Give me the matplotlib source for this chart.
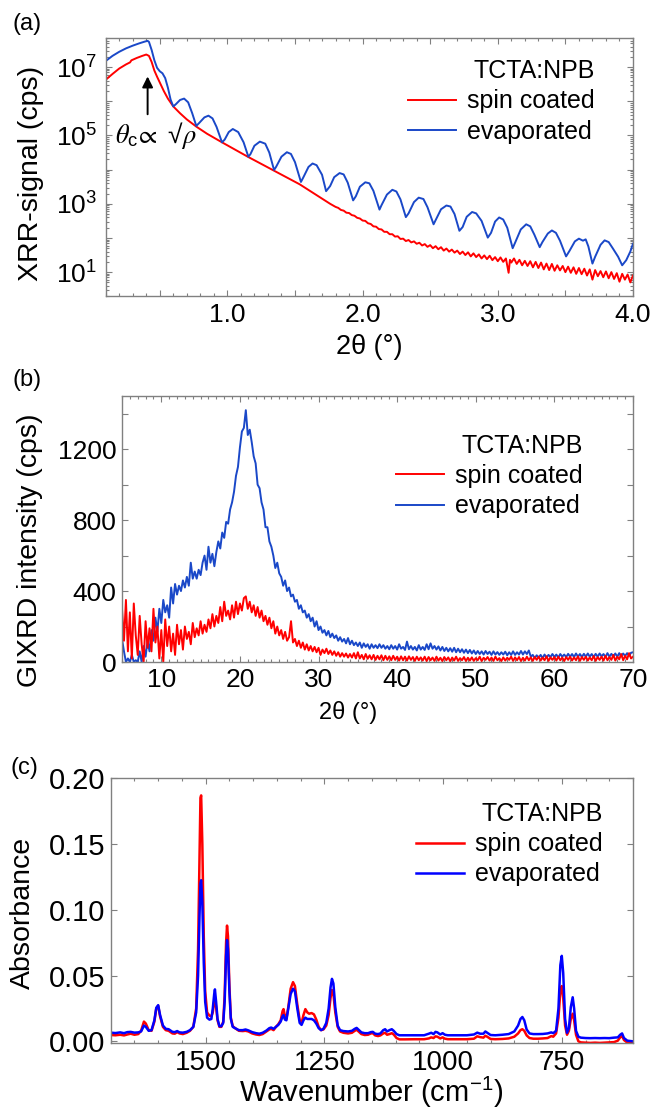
import numpy as np
import matplotlib
matplotlib.use("Agg")
import matplotlib.pyplot as plt
from matplotlib.ticker import MultipleLocator, LogLocator, FuncFormatter, NullFormatter

plt.rcParams['font.family'] = ['Liberation Sans', 'DejaVu Sans']
plt.rcParams['mathtext.fontset'] = 'stix'

# ---------------- data: (a) XRR (log10 of cps) ----------------
xrr_2theta_spin = [0.10, 0.15, 0.20, 0.25, 0.28, 0.29, 0.33, 0.37, 0.40, 0.42, 0.44, 0.46, 0.48, 0.50,
                   0.53, 0.56, 0.60, 0.65, 0.70, 0.77, 0.85, 0.96, 1.05, 1.15, 1.25, 1.335, 1.43, 1.535,
                   1.63, 1.73, 1.76,
                   1.80, 1.82, 1.84, 1.86, 1.88, 1.90, 1.92, 1.94, 1.96, 1.98,
                   2.00, 2.02, 2.04, 2.06, 2.08, 2.10, 2.12, 2.14, 2.16, 2.18,
                   2.20, 2.22, 2.24, 2.26, 2.28, 2.30, 2.32, 2.34, 2.36, 2.38,
                   2.40, 2.42, 2.44, 2.46, 2.48, 2.50, 2.52, 2.54, 2.56, 2.58,
                   2.60, 2.62, 2.64, 2.66, 2.68, 2.70, 2.72, 2.74, 2.76, 2.78,
                   2.80, 2.82, 2.84, 2.86, 2.88, 2.90, 2.92, 2.94, 2.96, 2.98,
                   3.00, 3.02, 3.04, 3.06, 3.08, 3.09, 3.10, 3.12, 3.14, 3.16, 3.18,
                   3.20, 3.22, 3.24, 3.26, 3.28, 3.30, 3.32, 3.34, 3.36, 3.38,
                   3.40, 3.42, 3.44, 3.46, 3.48, 3.50, 3.52, 3.54, 3.56, 3.58,
                   3.60, 3.62, 3.64, 3.66, 3.68, 3.70, 3.72, 3.74, 3.76, 3.78,
                   3.80, 3.82, 3.84, 3.86, 3.88, 3.90, 3.92, 3.94, 3.96, 3.98, 4.00]
xrr_log_spin = [6.63, 6.80, 6.96, 7.08, 7.14, 7.20, 7.27, 7.33, 7.37, 7.33, 7.15, 6.90, 6.72, 6.55,
                6.30, 6.08, 5.85, 5.65, 5.47, 5.26, 5.05, 4.80, 4.60, 4.38, 4.17, 3.99, 3.79, 3.57,
                3.33, 3.08, 3.00,
                2.91, 2.88, 2.82, 2.80, 2.74, 2.73, 2.67, 2.65, 2.59, 2.57,
                2.51, 2.50, 2.43, 2.41, 2.34, 2.33, 2.26, 2.25, 2.18, 2.18,
                2.11, 2.11, 2.04, 2.05, 1.97, 1.98, 1.91, 1.94, 1.87, 1.90,
                1.83, 1.86, 1.78, 1.82, 1.74, 1.79, 1.70, 1.76, 1.67, 1.73,
                1.63, 1.69, 1.60, 1.66, 1.57, 1.63, 1.53, 1.60, 1.50, 1.58,
                1.46, 1.55, 1.44, 1.52, 1.40, 1.49, 1.38, 1.48, 1.35, 1.44,
                1.32, 1.43, 1.30, 1.40, 0.98, 1.36, 1.28, 1.40, 1.24, 1.36, 1.20,
                1.33, 1.18, 1.32, 1.14, 1.30, 1.12, 1.28, 1.08, 1.25, 1.06,
                1.24, 1.04, 1.20, 1.05, 1.18, 1.00, 1.16, 0.98, 1.14, 0.95,
                1.12, 0.94, 1.10, 0.90, 1.08, 0.78, 1.06, 0.88, 1.03, 0.85,
                1.02, 0.82, 1.00, 0.80, 0.97, 0.72, 0.95, 0.78, 0.93, 0.70, 0.90]

xrr_2theta_evap = [0.10, 0.15, 0.20, 0.25, 0.30, 0.35, 0.39, 0.41, 0.42, 0.44, 0.46, 0.48, 0.50, 0.52,
                   0.54, 0.56, 0.58, 0.60, 0.62, 0.65, 0.68, 0.71, 0.74, 0.77, 0.79, 0.83, 0.86, 0.89,
                   0.92, 0.96, 0.98, 1.01, 1.04, 1.08, 1.12, 1.155, 1.17, 1.20, 1.24, 1.28, 1.31, 1.345,
                   1.36, 1.40, 1.44, 1.47, 1.50, 1.544, 1.56, 1.60, 1.63, 1.66, 1.70, 1.73, 1.76, 1.79,
                   1.83, 1.86, 1.89, 1.93, 1.95, 1.98, 2.02, 2.05, 2.08, 2.125, 2.14, 2.18, 2.22, 2.25,
                   2.28, 2.32, 2.34, 2.38, 2.415, 2.45, 2.48, 2.525, 2.54, 2.58, 2.62, 2.65, 2.68, 2.716,
                   2.74, 2.77, 2.81, 2.84, 2.88, 2.926, 2.95, 2.98, 3.01, 3.04, 3.07, 3.11, 3.13, 3.17,
                   3.21, 3.24, 3.27, 3.31, 3.33, 3.37, 3.40, 3.43, 3.46, 3.505, 3.53, 3.57, 3.60, 3.63,
                   3.65, 3.67, 3.70, 3.72, 3.76, 3.79, 3.82, 3.85, 3.89, 3.92, 3.95, 3.98, 4.00]
xrr_log_evap = [7.18, 7.33, 7.45, 7.55, 7.63, 7.70, 7.75, 7.77, 7.74, 7.50, 7.20, 6.98, 6.88, 6.82,
                6.68, 6.40, 6.05, 5.85, 5.92, 6.04, 6.08, 5.97, 5.65, 5.28, 5.36, 5.53, 5.58, 5.50,
                5.25, 4.80, 4.88, 5.10, 5.19, 5.10, 4.80, 4.38, 4.45, 4.70, 4.82, 4.76, 4.50, 3.99,
                4.08, 4.38, 4.51, 4.46, 4.22, 3.64, 3.76, 4.08, 4.18, 4.13, 3.85, 3.37, 3.52, 3.78,
                3.90, 3.86, 3.62, 3.10, 3.22, 3.50, 3.63, 3.60, 3.38, 2.83, 2.96, 3.27, 3.41, 3.36,
                3.13, 2.61, 2.72, 3.05, 3.18, 3.14, 2.90, 2.40, 2.52, 2.84, 2.95, 2.92, 2.70, 2.21,
                2.32, 2.62, 2.76, 2.72, 2.50, 2.01, 2.15, 2.48, 2.60, 2.54, 2.30, 1.70, 1.88, 2.25,
                2.40, 2.34, 2.10, 1.73, 1.88, 2.13, 2.22, 2.15, 1.92, 1.46, 1.62, 1.90, 1.98, 1.92,
                1.96, 1.75, 1.25, 1.45, 1.80, 1.93, 1.88, 1.70, 1.45, 1.20, 1.35, 1.60, 1.83]

# ---------------- data: (b) GIXRD (cps), 2theta = 5..70 step 0.25 ----------------
gixrd_evap = [
    130, 60, 0, 20, 0, 40, 0, 10,            # 5
    0, 60, 0, 90, 30, 120, 60, 180,          # 7
    120, 250, 170, 300, 220, 350, 280, 320,  # 9
    250, 420, 330, 440, 380, 430, 400, 460,  # 11
    420, 480, 430, 560, 470, 510, 470, 520,  # 13
    490, 560, 600, 520, 650, 560, 610, 540,  # 15
    620, 680, 640, 730, 700, 790, 780, 860,  # 17
    900, 960, 1050, 1100, 1210, 1300, 1320, 1420,  # 19
    1280, 1310, 1240, 1160, 1120, 1000, 980, 900,  # 21
    860, 760, 760, 680, 650, 600, 530, 560,  # 23
    500, 480, 430, 460, 400, 420, 370, 380,  # 25
    340, 350, 300, 320, 280, 290, 250, 270,  # 27
    230, 250, 200, 230, 180, 200, 165, 180,  # 29
    150, 175, 140, 160, 135, 150, 120, 140,  # 31
    115, 130, 105, 135, 100, 120, 95, 110,   # 33
    90, 110, 80, 105, 85, 100, 75, 100,      # 35
    80, 95, 78, 100, 80, 95, 75, 90,         # 37
    72, 95, 75, 90, 70, 100, 75, 85,         # 39
    68, 115, 72, 90, 70, 85, 65, 95,         # 41
    70, 85, 68, 100, 72, 105, 75, 90,        # 43
    70, 88, 65, 85, 62, 80, 60, 78,          # 45
    58, 80, 55, 75, 55, 72, 52, 70,          # 47
    50, 68, 48, 65, 45, 62, 45, 60,          # 49
    42, 62, 45, 58, 40, 60, 42, 56,          # 51
    40, 55, 42, 58, 38, 55, 40, 60,          # 53
    40, 55, 42, 62, 42, 60, 45, 65,          # 55
    30, 40, 22, 38, 25, 40, 22, 42,          # 57
    25, 40, 28, 45, 28, 42, 25, 45,          # 59
    30, 42, 28, 46, 30, 45, 28, 48,          # 61
    30, 45, 28, 46, 30, 48, 30, 45,          # 63
    28, 46, 30, 48, 32, 45, 28, 50,          # 65
    30, 46, 32, 48, 30, 50, 32, 48,          # 67
    34, 50, 35, 52, 55]                      # 69-70
gixrd_spin = [
    300, 120, 350, 60, 280, 20, 330, 150,    # 5
    40, 260, 100, 0, 230, 80, 190, 60,       # 7
    300, 110, 200, 20, 180, 0, 240, 90,      # 9
    200, 60, 160, 40, 210, 100, 180, 70,     # 11
    200, 130, 170, 100, 220, 140, 190, 150,  # 13
    230, 160, 210, 170, 240, 190, 270, 200,  # 15
    260, 220, 310, 230, 340, 260, 290, 240,  # 17
    320, 250, 340, 270, 330, 290, 360, 370,  # 19
    300, 340, 280, 320, 260, 310, 250, 290,  # 21
    230, 260, 210, 250, 190, 230, 160, 200,  # 23
    150, 180, 130, 170, 120, 140, 230, 110,  # 25
    130, 90, 120, 80, 110, 70, 100, 65,      # 27
    90, 60, 85, 55, 80, 40, 70, 50,          # 29
    75, 45, 65, 40, 60, 35, 55, 30,          # 31
    50, 30, 48, 25, 45, 25, 50, 20,          # 33
    55, 20, 40, 15, 45, 18, 38, 15,          # 35
    40, 12, 35, 15, 38, 10, 35, 12,          # 37
    32, 10, 35, 12, 30, 8, 32, 10,           # 39
    30, 8, 32, 12, 28, 6, 30, 10,            # 41
    26, 8, 30, 5, 28, 10, 25, 6,             # 43
    30, 8, 24, 5, 28, 10, 26, 4,             # 45
    25, 8, 30, 6, 22, 10, 28, 5,             # 47
    24, 8, 26, 6, 22, 10, 30, 5,             # 49
    24, 12, 28, 8, 25, 6, 30, 10,            # 51
    22, 5, 26, 8, 24, 12, 30, 6,             # 53
    26, 10, 28, 5, 24, 8, 30, 10,            # 55
    26, 6, 28, 12, 30, 8, 25, 10,            # 57
    32, 6, 26, 12, 28, 8, 30, 10,            # 59
    25, 5, 28, 12, 30, 8, 26, 10,            # 61
    32, 6, 28, 12, 30, 8, 26, 10,            # 63
    34, 6, 28, 12, 30, 8, 35, 10,            # 65
    28, 12, 40, 8, 30, 15, 45, 10,           # 67
    35, 15, 50, 20, 30]                      # 69-70
gixrd_2theta = np.linspace(5, 70, len(gixrd_evap))

# ---------------- data: (c) IR absorbance ----------------
ir_wavenumber = [1700, 1690, 1680, 1672, 1665, 1658, 1650, 1642, 1636, 1630, 1626, 1620, 1614, 1608,
                 1604, 1600, 1596, 1590, 1584, 1578, 1570, 1565, 1560, 1555, 1548, 1540, 1533, 1526,
                 1520, 1516, 1513, 1511, 1509.5, 1507, 1504, 1501, 1497, 1492, 1488, 1485, 1482, 1480.5,
                 1478, 1475, 1471, 1467, 1463, 1460, 1457, 1455, 1453, 1450, 1447, 1443, 1438, 1430,
                 1422, 1416, 1410, 1402, 1394, 1387, 1380, 1372, 1366, 1362, 1357, 1352, 1347, 1342,
                 1338, 1336, 1333, 1330, 1326, 1321, 1316, 1312, 1307, 1302, 1298, 1294, 1290, 1286,
                 1282, 1277, 1272, 1267, 1262, 1257, 1252, 1246, 1241, 1237, 1234, 1231, 1227, 1222,
                 1217, 1210, 1200, 1192, 1186, 1182, 1178, 1172, 1165, 1158, 1152, 1148, 1143, 1137,
                 1132, 1126, 1122, 1118, 1113, 1108, 1104, 1098, 1092, 1080, 1060, 1040, 1030, 1025,
                 1020, 1016, 1012, 1006, 1001, 996, 990, 970, 950, 935, 928, 922, 915, 911,
                 907, 900, 890, 875, 862, 850, 842, 837, 833, 829, 824, 818, 810, 800,
                 790, 780, 772, 768, 762, 757, 753, 750, 747, 743, 739, 735, 731, 727,
                 724, 720, 715, 710, 700, 690, 680, 670, 660, 650, 640, 632, 627, 623,
                 619, 612, 605, 600]
ir_spin = [0.0048, 0.0046, 0.0050, 0.0045, 0.0052, 0.0058, 0.0050, 0.0055, 0.0080, 0.0150, 0.0135, 0.0085, 0.0080, 0.0150,
           0.0250, 0.0270, 0.0190, 0.0110, 0.0085, 0.0080, 0.0060, 0.0058, 0.0070, 0.0060, 0.0055, 0.0065, 0.0080, 0.0110,
           0.0250, 0.0700, 0.1400, 0.1850, 0.1870, 0.1500, 0.0800, 0.0380, 0.0220, 0.0195, 0.0190, 0.0220, 0.0300, 0.0330,
           0.0260, 0.0160, 0.0110, 0.0110, 0.0150, 0.0350, 0.0750, 0.0880, 0.0800, 0.0420, 0.0180, 0.0115, 0.0100, 0.0080,
           0.0078, 0.0080, 0.0075, 0.0060, 0.0052, 0.0048, 0.0055, 0.0075, 0.0090, 0.0095, 0.0085, 0.0110, 0.0130, 0.0160,
           0.0230, 0.0245, 0.0190, 0.0170, 0.0260, 0.0400, 0.0450, 0.0420, 0.0280, 0.0160, 0.0140, 0.0200, 0.0245, 0.0220,
           0.0210, 0.0215, 0.0205, 0.0165, 0.0110, 0.0085, 0.0090, 0.0120, 0.0200, 0.0330, 0.0390, 0.0360, 0.0220, 0.0110,
           0.0075, 0.0065, 0.0060, 0.0065, 0.0080, 0.0088, 0.0075, 0.0055, 0.0048, 0.0050, 0.0060, 0.0062, 0.0045, 0.0040,
           0.0045, 0.0060, 0.0065, 0.0050, 0.0055, 0.0062, 0.0052, 0.0025, 0.0015, 0.0015, 0.0016, 0.0016, 0.0022, 0.0030,
           0.0025, 0.0038, 0.0035, 0.0022, 0.0030, 0.0020, 0.0016, 0.0016, 0.0016, 0.0020, 0.0038, 0.0032, 0.0028, 0.0042,
           0.0035, 0.0018, 0.0016, 0.0018, 0.0022, 0.0035, 0.0060, 0.0085, 0.0092, 0.0080, 0.0045, 0.0025, 0.0020, 0.0020,
           0.0022, 0.0025, 0.0040, 0.0035, 0.0060, 0.0180, 0.0380, 0.0420, 0.0330, 0.0120, 0.0050, 0.0080, 0.0170, 0.0210,
           0.0160, 0.0050, 0.0000, -0.0008, -0.0010, -0.0012, -0.0010, -0.0012, -0.0010, -0.0008, -0.0006, 0.0005, 0.0030, 0.0040,
           0.0010, -0.0010, -0.0012, -0.0012]
ir_evap = [0.0066, 0.0063, 0.0068, 0.0062, 0.0070, 0.0072, 0.0066, 0.0068, 0.0075, 0.0120, 0.0110, 0.0080, 0.0085, 0.0160,
           0.0255, 0.0275, 0.0200, 0.0120, 0.0095, 0.0092, 0.0072, 0.0070, 0.0078, 0.0068, 0.0066, 0.0072, 0.0085, 0.0110,
           0.0220, 0.0500, 0.0950, 0.1200, 0.1225, 0.1050, 0.0600, 0.0300, 0.0180, 0.0165, 0.0170, 0.0250, 0.0360, 0.0395,
           0.0300, 0.0170, 0.0115, 0.0115, 0.0140, 0.0300, 0.0650, 0.0770, 0.0700, 0.0380, 0.0170, 0.0110, 0.0100, 0.0085,
           0.0085, 0.0090, 0.0083, 0.0070, 0.0062, 0.0058, 0.0065, 0.0082, 0.0100, 0.0105, 0.0095, 0.0110, 0.0125, 0.0150,
           0.0190, 0.0200, 0.0165, 0.0160, 0.0250, 0.0360, 0.0400, 0.0380, 0.0250, 0.0140, 0.0125, 0.0160, 0.0180, 0.0170,
           0.0170, 0.0170, 0.0160, 0.0135, 0.0100, 0.0085, 0.0095, 0.0140, 0.0250, 0.0410, 0.0475, 0.0440, 0.0260, 0.0120,
           0.0085, 0.0078, 0.0075, 0.0080, 0.0095, 0.0102, 0.0088, 0.0068, 0.0062, 0.0062, 0.0070, 0.0072, 0.0058, 0.0055,
           0.0060, 0.0085, 0.0092, 0.0075, 0.0085, 0.0092, 0.0080, 0.0055, 0.0046, 0.0046, 0.0046, 0.0046, 0.0058, 0.0065,
           0.0055, 0.0072, 0.0068, 0.0052, 0.0062, 0.0050, 0.0046, 0.0046, 0.0046, 0.0052, 0.0066, 0.0058, 0.0058, 0.0075,
           0.0065, 0.0048, 0.0046, 0.0050, 0.0055, 0.0075, 0.0120, 0.0170, 0.0185, 0.0160, 0.0090, 0.0060, 0.0055, 0.0055,
           0.0056, 0.0060, 0.0068, 0.0062, 0.0080, 0.0250, 0.0580, 0.0650, 0.0520, 0.0170, 0.0065, 0.0100, 0.0260, 0.0335,
           0.0250, 0.0080, 0.0035, 0.0028, 0.0025, 0.0024, 0.0025, 0.0024, 0.0025, 0.0024, 0.0028, 0.0030, 0.0050, 0.0060,
           0.0025, 0.0005, 0.0002, 0.0000]

legend_title = "TCTA:NPB"
series_labels = ["spin coated", "evaporated"]

# ---------------- styling ----------------
RED = '#ff0000'
BLUE_AB = '#1a48c8'
BLUE_C = '#0000ff'
GRAY = '#808080'
TICK_FS = 19

fig = plt.figure(figsize=(6.55, 11.11), dpi=100)


def style_axes(ax):
    for s in ax.spines.values():
        s.set_color(GRAY)
        s.set_linewidth(1.0)
    ax.tick_params(which='both', direction='in', top=True, right=True, color=GRAY,
                   width=0.8, labelsize=TICK_FS, labelcolor='black')
    ax.tick_params(which='major', length=4.5)
    ax.tick_params(which='minor', length=2.5)


def add_legend(ax, handles, x_px, y_px):
    leg = ax.legend(handles, series_labels, title=legend_title, loc='upper left',
                    bbox_to_anchor=(x_px / 655, 1 - y_px / 1111), bbox_transform=fig.transFigure,
                    frameon=False, fontsize=18, title_fontsize=18, handlelength=1.9,
                    handletextpad=0.45, labelspacing=0.25, borderpad=0, borderaxespad=0,
                    alignment='right')
    return leg


# ---------------- (a) ----------------
axa = fig.add_axes([105.7 / 655, 1 - 296 / 1111, (633 - 105.7) / 655, (296 - 38.3) / 1111])
la_s, = axa.plot(xrr_2theta_spin, 10 ** np.array(xrr_log_spin), color=RED, lw=1.4)
la_e, = axa.plot(xrr_2theta_evap, 10 ** np.array(xrr_log_evap), color=BLUE_AB, lw=1.4)
axa.set_yscale('log')
axa.set_xlim(0.1, 4.0)
axa.set_ylim(2, 7e7)
style_axes(axa)
axa.xaxis.set_major_locator(MultipleLocator(0.5))
axa.xaxis.set_minor_locator(MultipleLocator(0.1))
axa.xaxis.set_major_formatter(FuncFormatter(lambda v, p: f'{v:.1f}' if abs(v - round(v)) < 1e-6 else ''))
axa.yaxis.set_major_locator(LogLocator(base=10, numticks=20))
axa.yaxis.set_minor_locator(LogLocator(base=10, subs=np.arange(2, 10), numticks=20))
axa.yaxis.set_minor_formatter(NullFormatter())
axa.yaxis.set_major_formatter(FuncFormatter(
    lambda v, p: (r'$\mathdefault{10^{%d}}$' % int(round(np.log10(v)))) if int(round(np.log10(v))) % 2 == 1 else ''))
axa.tick_params(axis='y', which='major', pad=6)
axa.tick_params(axis='x', which='major', pad=5)
axa.set_xlabel('2θ (°)', fontsize=19.5)
axa.xaxis.set_label_coords(0.5, -(346.7 - 296) / (296 - 38.3), transform=axa.transAxes)
axa.set_ylabel('XRR-signal (cps)', fontsize=20.5)
axa.yaxis.set_label_coords(-(105.7 - 31.5) / (633 - 105.7), (296 - 173) / (296 - 38.3))
axa.xaxis.label.set_va('center')
axa.yaxis.label.set_va('center')
axa.annotate('', xy=(0.41, 10 ** 6.81), xytext=(0.41, 10 ** 5.54),
             arrowprops=dict(arrowstyle='-|>', color='black', lw=1.4, mutation_scale=16))
axa.text(0.17, 10 ** 5.0, r'$\theta_{\mathdefault{c}}\!\propto$ √$\rho$', fontsize=19,
         ha='left', va='center')
add_legend(axa, [la_s, la_e], 408, 59)

# ---------------- (b) ----------------
axb = fig.add_axes([122 / 655, 1 - 662 / 1111, (633 - 122) / 655, (662 - 396) / 1111])
lb_e, = axb.plot(gixrd_2theta, gixrd_evap, color=BLUE_AB, lw=1.4)
lb_s, = axb.plot(gixrd_2theta, gixrd_spin, color=RED, lw=1.4)
axb.set_xlim(5, 70)
axb.set_ylim(0, 1500)
style_axes(axb)
axb.xaxis.set_major_locator(MultipleLocator(10))
axb.xaxis.set_minor_locator(MultipleLocator(1))
axb.yaxis.set_major_locator(MultipleLocator(400))
axb.yaxis.set_minor_locator(MultipleLocator(200))
axb.tick_params(axis='y', which='minor', length=4.5)
axb.tick_params(axis='both', which='major', pad=4)
axb.set_xlabel('2θ (°)', fontsize=17)
axb.xaxis.set_label_coords((348 - 122) / (633 - 122), -(713 - 662) / (662 - 396))
axb.set_ylabel('GIXRD intensity (cps)', fontsize=20.5)
axb.yaxis.set_label_coords(-(122 - 30) / (633 - 122), (662 - 550) / (662 - 396))
axb.xaxis.label.set_va('center')
axb.yaxis.label.set_va('center')
add_legend(axb, [lb_s, lb_e], 396, 434)

# ---------------- (c) ----------------
axc = fig.add_axes([110.7 / 655, 1 - 1043.3 / 1111, (633 - 110.7) / 655, (1043.3 - 778.3) / 1111])
lc_s, = axc.plot(ir_wavenumber, ir_spin, color=RED, lw=1.8)
lc_e, = axc.plot(ir_wavenumber, ir_evap, color=BLUE_C, lw=1.8)
axc.set_xlim(1700, 600)
axc.set_ylim(-0.0015, 0.2)
style_axes(axc)
axc.xaxis.set_major_locator(MultipleLocator(250))
axc.xaxis.set_minor_locator(MultipleLocator(50))
axc.yaxis.set_major_locator(MultipleLocator(0.05))
axc.yaxis.set_major_formatter(FuncFormatter(lambda v, p: f'{v:.2f}'))
axc.tick_params(axis='y', which='major', labelsize=21, pad=4)
axc.tick_params(axis='x', which='major', labelsize=20, pad=5)
axc.set_xlabel('Wavenumber (cm$^{\\mathdefault{-1}}$)', fontsize=21)
axc.xaxis.set_label_coords(0.5, -(1093 - 1043.3) / (1043.3 - 778.3))
axc.set_ylabel('Absorbance', fontsize=20.5)
axc.yaxis.set_label_coords(-(110.7 - 23) / (633 - 110.7), (1043.3 - 913) / (1043.3 - 778.3))
axc.xaxis.label.set_va('center')
axc.yaxis.label.set_va('center')
add_legend(axc, [lc_s, lc_e], 416, 802)

# panel labels
fig.text(13 / 655, 1 - 24 / 1111, '(a)', fontsize=17, va='center', ha='left')
fig.text(13 / 655, 1 - 380 / 1111, '(b)', fontsize=17, va='center', ha='left')
fig.text(10 / 655, 1 - 768 / 1111, '(c)', fontsize=17, va='center', ha='left')

fig.savefig('out.png', dpi=100)
